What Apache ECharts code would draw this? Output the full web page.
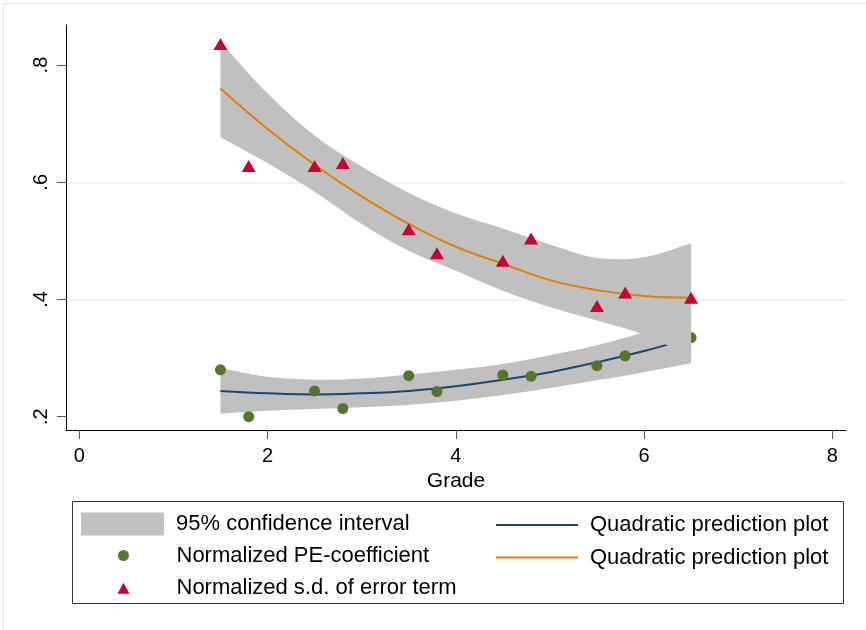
<!DOCTYPE html>
<html><head><meta charset="utf-8">
<script src="https://cdn.jsdelivr.net/npm/echarts@6/dist/echarts.min.js"></script>
<style>html,body{margin:0;padding:0;background:#fff}#c{width:866px;height:630px}</style>
</head><body><div id="c"></div>
<script>
// ---- data ----
const gradeX = [1.5, 1.8, 2.5, 2.8, 3.5, 3.8, 4.5, 4.8, 5.5, 5.8, 6.5];
const peCoef = [0.280, 0.200, 0.244, 0.214, 0.270, 0.243, 0.271, 0.269, 0.287, 0.304, 0.335];
const sdErr  = [0.836, 0.628, 0.628, 0.633, 0.520, 0.479, 0.466, 0.504, 0.389, 0.412, 0.403];

const fitX      = [1.5, 2, 2.5, 3, 3.5, 4, 4.5, 5, 5.5, 6, 6.5];
const peFit     = [0.244, 0.240, 0.238, 0.240, 0.244, 0.252, 0.263, 0.276, 0.293, 0.312, 0.335];
const sdFit     = [0.760, 0.691, 0.630, 0.576, 0.529, 0.490, 0.461, 0.433, 0.416, 0.406, 0.403];

const bandX     = [1.5, 2, 2.5, 3, 3.5, 4, 4.5, 5, 5.5, 6, 6.5];
const peLo      = [0.205, 0.210, 0.213, 0.216, 0.220, 0.227, 0.237, 0.249, 0.262, 0.276, 0.291];
const peHi      = [0.283, 0.268, 0.263, 0.265, 0.272, 0.280, 0.290, 0.305, 0.322, 0.344, 0.372];
const sdLo      = [0.677, 0.633, 0.584, 0.529, 0.483, 0.449, 0.415, 0.387, 0.364, 0.340, 0.302];
const sdHi      = [0.840, 0.752, 0.680, 0.627, 0.582, 0.547, 0.521, 0.494, 0.471, 0.472, 0.496];

const xTicks = [0, 2, 4, 6, 8];
const xTickLabels = ['0', '2', '4', '6', '8'];
const yTicks = [0.2, 0.4, 0.6, 0.8];
const yTickLabels = ['.2', '.4', '.6', '.8'];

const nameCI = '95% confidence interval';
const namePE = 'Normalized PE-coefficient';
const nameSD = 'Normalized s.d. of error term';
const nameFit = 'Quadratic prediction plot';

// ---- build ----
const FONT = "'Liberation Sans', Arial, Helvetica, sans-serif";
const pair = (xs, ys) => xs.map((x, i) => [x, ys[i]]);
const lookup = (vals, labs) => v => { const i = vals.findIndex(t => Math.abs(t - v) < 1e-6); return i < 0 ? '' : labs[i]; };

const GRAY = '#c0c0c0';
const NAVY = '#1a476f', ORANGE = '#e37e00', GREEN = '#55752f', RED = '#c10534';

// Catmull-Rom smoothing of pixel points into cubic bezier path commands
function curve(pts) {
  let d = '';
  for (let i = 0; i < pts.length - 1; i++) {
    const p0 = pts[Math.max(i - 1, 0)], p1 = pts[i], p2 = pts[i + 1], p3 = pts[Math.min(i + 2, pts.length - 1)];
    const c1 = [p1[0] + (p2[0] - p0[0]) / 6, p1[1] + (p2[1] - p0[1]) / 6];
    const c2 = [p2[0] - (p3[0] - p1[0]) / 6, p2[1] - (p3[1] - p1[1]) / 6];
    d += 'C' + c1[0].toFixed(2) + ',' + c1[1].toFixed(2) + ' ' + c2[0].toFixed(2) + ',' + c2[1].toFixed(2) + ' ' + p2[0].toFixed(2) + ',' + p2[1].toFixed(2);
  }
  return d;
}
function bandSeries(lo, hi, z) {
  return {
    type: 'custom', name: nameCI, z, silent: true,
    data: bandX.map((x, i) => [x, lo[i], hi[i]]),
    encode: { x: 0, y: [1, 2] },
    itemStyle: { color: GRAY },
    renderItem: (params, api) => {
      if (params.dataIndexInside !== 0) return null;
      const n = params.dataInsideLength;
      const up = [], dn = [];
      for (let i = 0; i < n; i++) {
        up.push(api.coord([api.value(0, i), api.value(2, i)]));
        dn.push(api.coord([api.value(0, i), api.value(1, i)]));
      }
      dn.reverse();
      const d = 'M' + up[0][0] + ',' + up[0][1] + curve(up) + 'L' + dn[0][0] + ',' + dn[0][1] + curve(dn) + 'Z';
      return { type: 'path', shape: { pathData: d }, style: { fill: GRAY, stroke: null } };
    }
  };
}

const chart = echarts.init(document.getElementById('c'), null, { renderer: 'canvas' });
const txt = { fontFamily: FONT, fontSize: 20, color: '#000' };
const ltxt = { fontFamily: FONT, fontSize: 22, color: '#000', lineHeight: 20 };
chart.setOption({
  animation: false,
  backgroundColor: '#fff',
  grid: { left: 66, right: 20, top: 25, bottom: 200, containLabel: false },
  xAxis: {
    type: 'value', min: -0.141, max: 8.146,
    name: 'Grade', nameLocation: 'middle', nameGap: 37,
    nameTextStyle: Object.assign({}, txt, { fontSize: 21 }),
    axisLine: { show: true, onZero: false, lineStyle: { color: '#000', width: 1 } },
    axisTick: { show: true, length: 9, customValues: xTicks, lineStyle: { color: '#555', width: 1 } },
    axisLabel: Object.assign({ customValues: xTicks, margin: 16, formatter: lookup(xTicks, xTickLabels) }, txt),
    splitLine: { show: false }
  },
  yAxis: {
    type: 'value', min: 0.1773, max: 0.8684, splitNumber: 3,
    axisLine: { show: true, onZero: false, lineStyle: { color: '#000', width: 1 } },
    axisTick: { show: true, length: 9, customValues: yTicks, lineStyle: { color: '#555', width: 1 } },
    axisLabel: Object.assign({ customValues: yTicks, rotate: 90, margin: 15, formatter: lookup(yTicks, yTickLabels) }, txt),
    splitLine: { show: true, showMinLine: false, showMaxLine: false, lineStyle: { color: '#e8f0f2', width: 1.5 } }
  },
  legend: [
    {
      left: 81, top: 512.5, orient: 'vertical', padding: 0, selectedMode: false,
      itemWidth: 83, itemHeight: 23,
      data: [{ name: nameCI, icon: 'rect', itemStyle: { color: GRAY } }],
      textStyle: Object.assign({ padding: [0, 0, 0, 7] }, ltxt)
    },
    {
      left: 117.5, top: 544.5, orient: 'vertical', padding: 0, selectedMode: false,
      itemWidth: 12, itemHeight: 11, itemGap: 10.7,
      data: [{ name: namePE, icon: 'circle' }, { name: nameSD, icon: 'triangle' }],
      textStyle: Object.assign({ padding: [0, 0, 0, 42] }, ltxt)
    },
    {
      left: 496, top: 514, orient: 'vertical', padding: 0, selectedMode: false,
      itemWidth: 82, itemHeight: 2, itemGap: 10.5,
      data: [
        { name: nameFit, icon: 'rect', itemStyle: { color: NAVY } },
        { name: nameFit + ' #2', icon: 'rect', itemStyle: { color: ORANGE } }
      ],
      formatter: n => n.replace(/ #2$/, ''),
      textStyle: Object.assign({ padding: [0, 0, 0, 7] }, ltxt)
    }
  ],
  graphic: [
    { type: 'rect', z: -10, silent: true, shape: { x: 3.5, y: 3.5, width: 900, height: 700 }, style: { fill: 'none', stroke: '#e3ebee', lineWidth: 1.5 } },
    { type: 'rect', z: 10, silent: true, shape: { x: 72.5, y: 501.5, width: 771, height: 102 }, style: { fill: 'none', stroke: '#333', lineWidth: 1 } }
  ],
  series: [
    bandSeries(peLo, peHi, 1),
    { type: 'line', name: nameFit, data: pair(fitX, peFit), smooth: 0.4, symbol: 'none', silent: true,
      lineStyle: { color: NAVY, width: 2 }, itemStyle: { color: NAVY }, z: 2 },
    { type: 'scatter', name: namePE, data: pair(gradeX, peCoef), symbol: 'circle', symbolSize: 11,
      itemStyle: { color: GREEN, opacity: 1 }, z: 3 },
    bandSeries(sdLo, sdHi, 4),
    { type: 'line', name: nameFit + ' #2', data: pair(fitX, sdFit), smooth: 0.4, symbol: 'none', silent: true,
      lineStyle: { color: ORANGE, width: 2 }, itemStyle: { color: ORANGE }, z: 5 },
    { type: 'scatter', name: nameSD, data: pair(gradeX, sdErr), symbol: 'triangle', symbolSize: [14, 12],
      itemStyle: { color: RED, opacity: 1 }, z: 6 }
  ]
});
</script>
</body></html>
